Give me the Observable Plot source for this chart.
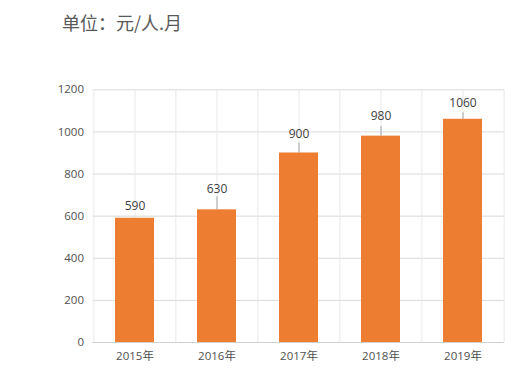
<!DOCTYPE html>
<html>
<head>
<meta charset="utf-8">
<script src="https://cdn.jsdelivr.net/npm/d3@7"></script>
<script src="https://cdn.jsdelivr.net/npm/@observablehq/plot@0.6"></script>
<style>
  html, body { margin: 0; padding: 0; background: #fff; }
  #title { height: 44px; line-height: 44px; padding-left: 62px; font-size: 18px; color: #595959;
           font-family: "Noto Sans CJK SC", sans-serif; }
</style>
</head>
<body>
<div id="title">单位：元/人.月</div>
<div id="chart"></div>
<script>
const years = ["2015年", "2016年", "2017年", "2018年", "2019年"];
const values = [590, 630, 900, 980, 1060];
const yTicks = [0, 200, 400, 600, 800, 1000, 1200];

const data = years.map((y, i) => ({year: y, value: values[i]}));

const W = 519, H = 340;
const mL = 92.5, mR = 15, mT = 45.3, mB = 42;
const step = (W - mL - mR) / years.length;

// label lift above bar top (px) and leader length (px)
const lift = [12, 21, 18.5, 19.5, 16];
const leader = [0, 13, 10, 9.5, 6.5];

const marks = [
  Plot.ruleY(yTicks, {stroke: "#d9d9d9", strokeWidth: 1}),
  Plot.ruleX(years, {stroke: "#e8e8e8", strokeWidth: 1}),
  Plot.ruleX(years, {stroke: "#e8e8e8", strokeWidth: 1, dx: -step / 2}),
  Plot.ruleX([years[years.length - 1]], {stroke: "#e8e8e8", strokeWidth: 1, dx: step / 2}),
  Plot.ruleY([0], {stroke: "#d0d0d0", strokeWidth: 1}),
  Plot.barY(data, {x: "year", y: "value", fill: "#ED7D31"})
];
data.forEach((d, i) => {
  marks.push(Plot.text([d], {x: "year", y: "value", text: e => String(e.value), dy: -lift[i],
    fill: "#404040", fontSize: 12, lineAnchor: "middle"}));
  if (leader[i] > 0) {
    marks.push(Plot.ruleX([d], {x: "year", y1: "value", y2: "value", stroke: "#a6a6a6",
      strokeWidth: 1, insetTop: -leader[i]}));
  }
});

const chart = Plot.plot({
  width: W,
  height: H,
  marginLeft: mL,
  marginRight: mR,
  marginTop: mT,
  marginBottom: mB,
  style: {fontFamily: "'Open Sans', 'Noto Sans CJK SC', sans-serif", fontSize: "11.5px", color: "#505050", background: "#fff"},
  x: {domain: years, paddingInner: 0.53, paddingOuter: 0.265, label: null, tickSize: 0, tickPadding: 9},
  y: {domain: [0, 1200], ticks: yTicks, tickFormat: d => String(d), label: null, tickSize: 0, tickPadding: 9},
  marks
});
document.getElementById("chart").appendChild(chart);
</script>
</body>
</html>
